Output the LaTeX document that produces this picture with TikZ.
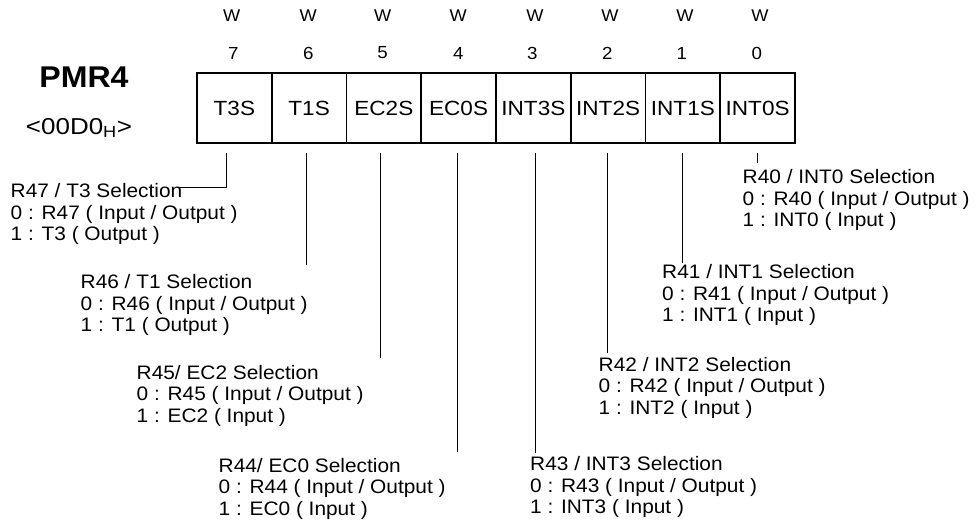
\documentclass[tikz,border=0pt]{standalone}
\usepackage{fontspec}
\setmainfont{Liberation Sans}[FakeStretch=1.07]
\newfontfamily\cellfamily{Liberation Sans}[FakeStretch=1.1]
\newfontfamily\addrfamily{Liberation Sans}[FakeStretch=1.13]
\begin{document}
\begin{tikzpicture}[x=1pt,y=-1pt,
  cell/.style={draw,line width=1.6pt,minimum width=74.75pt,minimum height=70pt,inner sep=0pt,
    font=\cellfamily\fontsize{20.5}{22}\selectfont},
  acc/.style={inner sep=0pt,font=\fontsize{17}{18}\selectfont},
  bitno/.style={inner sep=0pt,font=\fontsize{17.5}{18}\selectfont},
  desc/.style={anchor=base west,align=left,inner sep=0pt,font=\fontsize{19.5}{21.5}\selectfont},
  conn/.style={line width=0.9pt}]
\useasboundingbox (0,0) rectangle (977,526);
% register cells
\foreach \n/\t [count=\i from 0] in {7/T3S,6/T1S,5/EC2S,4/EC0S,3/INT3S,2/INT2S,1/INT1S,0/INT0S}{
  \node[cell] (c\n) at ({197+74.75*(\i+0.5)},108) {\t};
}
% access labels and bit numbers
\foreach \n/\wx/\bx in {7/231.7/233.3,6/308.3/308.3,5/382.7/382.7,4/458.3/458.3,3/535/532.3,2/610/607.3,1/685/681.7,0/760/756.7}{
  \node[acc] (w\n) at (\wx,15.3) {W};
  \node[bitno] (b\n) at (\bx,53) {\n};
}
% register name
\node[inner sep=0pt,font=\bfseries\fontsize{30}{32}\selectfont] (name) at (84,77) {PMR4};
\node[inner sep=0pt,font=\addrfamily\fontsize{23}{24}\selectfont] (addr) at (79,128) {<00D0\textsubscript{H}>};
% descriptions (base = baseline of the last line)
\node[desc] (t7) at (10.5,241) {R47 / T3 Selection\\0 : R47 ( Input / Output )\\1 : T3 ( Output )};
\node[desc] (t6) at (80.5,332) {R46 / T1 Selection\\0 : R46 ( Input / Output )\\1 : T1 ( Output )};
\node[desc] (t5) at (136.5,422) {R45/ EC2 Selection\\0 : R45 ( Input / Output )\\1 : EC2 ( Input )};
\node[desc] (t4) at (218.5,515) {R44/ EC0 Selection\\0 : R44 ( Input / Output )\\1 : EC0 ( Input )};
\node[desc] (t3) at (530,513.5) {R43 / INT3 Selection\\0 : R43 ( Input / Output )\\1 : INT3 ( Input )};
\node[desc] (t2) at (598.5,414) {R42 / INT2 Selection\\0 : R42 ( Input / Output )\\1 : INT2 ( Input )};
\node[desc] (t1) at (662,322) {R41 / INT1 Selection\\0 : R41 ( Input / Output )\\1 : INT1 ( Input )};
\node[desc] (t0) at (742.5,227) {R40 / INT0 Selection\\0 : R40 ( Input / Output )\\1 : INT0 ( Input )};
% connector end points
\coordinate (e7) at (177,187);
\coordinate (k7) at (226.7,187);
\coordinate (e6) at (306,265);
\coordinate (e5) at (380,358);
\coordinate (e4) at (457.7,452);
\coordinate (e3) at (535,453);
\coordinate (e2) at (607.3,353);
\coordinate (e1) at (682.7,263);
\coordinate (e0) at (757,163);
% connectors
\draw[conn] ([yshift=-9pt]c7.south -| k7) -- (k7) -- (e7);
\foreach \n in {6,5,4,3,2,1,0}{
  \draw[conn] ([yshift=-9pt]c\n.south -| e\n) -- (e\n);
}
\end{tikzpicture}
\end{document}
